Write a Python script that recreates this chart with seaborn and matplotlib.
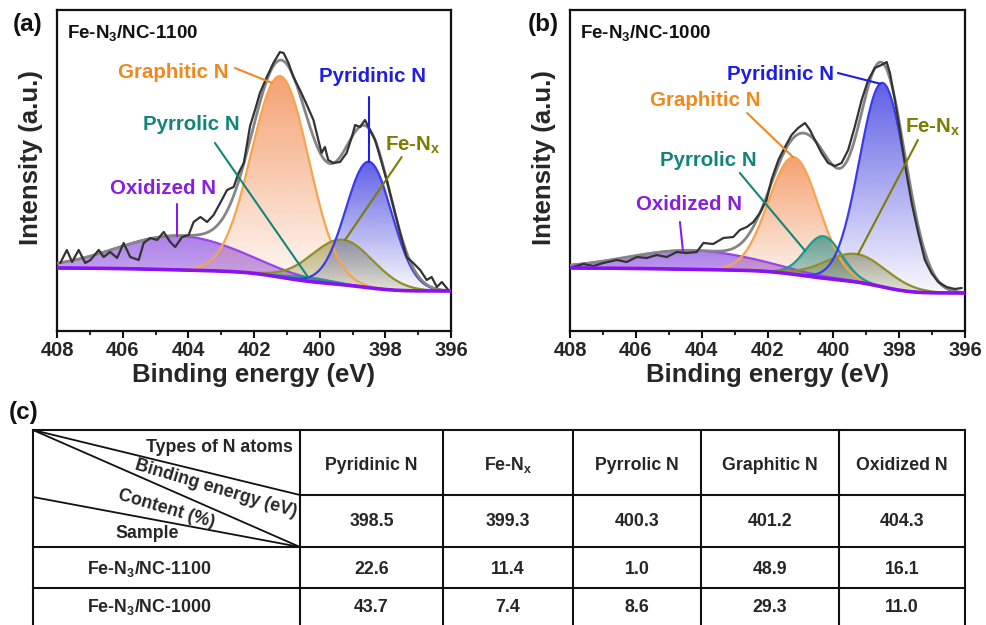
import numpy as np
import matplotlib
matplotlib.use("Agg")
import matplotlib.pyplot as plt
from matplotlib.patches import Polygon
from matplotlib.colors import to_rgb
from matplotlib.ticker import MultipleLocator
import seaborn as sns

# ---------------------------------------------------------------- data
# N 1s species, binding energies (eV) and contents (%)
species = ["Pyridinic N", "Fe-N$_x$", "Pyrrolic N", "Graphitic N", "Oxidized N"]
binding_energy = [398.5, 399.3, 400.3, 401.2, 404.3]
content_1100 = [22.6, 11.4, 1.0, 48.9, 16.1]
content_1000 = [43.7, 7.4, 8.6, 29.3, 11.0]
samples = ["Fe-N$_3$/NC-1100", "Fe-N$_3$/NC-1000"]

# fitted component heights (a.u.) and FWHM (eV), same order as species
height_1100 = [126, 45, 4, 201, 34]
fwhm_1100 = [1.65, 2.2, 1.6, 2.05, 4.4]
height_1000 = [204, 28, 42, 117, 19]
fwhm_1000 = [1.65, 2.2, 1.3, 1.8, 4.5]

# Shirley background levels (high-BE end, low-BE end)
background_1100 = [63, 40]
background_1000 = [63, 38]

# measured N 1s spectra
energy_1100 = [407.9, 407.7, 407.54, 407.34, 407.14, 406.98, 406.73, 406.58, 406.38,
               406.17, 405.97, 405.77, 405.51, 405.36, 405.16, 404.95, 404.75, 404.55,
               404.4, 404.19, 403.99, 403.84, 403.63, 403.43, 403.23, 403.03, 402.82,
               402.62, 402.47, 402.31, 402.12, 401.96, 401.82, 401.61, 401.41, 401.21,
               401.1, 400.95, 400.8, 400.6, 400.39, 400.19, 400.04, 399.94, 399.84,
               399.74, 399.58, 399.38, 399.18, 399.02, 398.92, 398.77, 398.62, 398.47,
               398.31, 398.16, 397.96, 397.75, 397.55, 397.35, 397.15, 396.94, 396.74,
               396.59, 396.43, 396.28, 396.08]
counts_1100 = [68, 81, 69, 81, 68, 71, 81, 74, 79, 73, 88, 74, 71, 88, 93, 91, 99, 89,
               84, 94, 96, 109, 114, 109, 116, 128, 141, 144, 158, 168, 205, 222, 238,
               254, 268, 279, 278, 268, 254, 241, 226, 211, 191, 178, 184, 171, 168, 169,
               178, 194, 206, 204, 211, 201, 191, 174, 151, 124, 98, 74, 68, 61, 51, 54,
               44, 49, 41]

energy_1000 = [407.9, 407.6, 407.29, 406.99, 406.58, 406.28, 405.97, 405.67, 405.37,
               405.06, 404.76, 404.46, 404.15, 403.95, 403.65, 403.34, 403.04, 402.84,
               402.63, 402.43, 402.23, 402.03, 401.88, 401.67, 401.47, 401.27, 401.07,
               400.86, 400.71, 400.56, 400.36, 400.16, 399.95, 399.75, 399.55, 399.35,
               399.14, 398.94, 398.74, 398.54, 398.38, 398.28, 398.13, 397.98, 397.83,
               397.62, 397.42, 397.22, 397.02, 396.81, 396.56, 396.31, 396.1]
counts_1000 = [64, 67, 65, 68, 71, 69, 74, 73, 76, 74, 79, 78, 79, 88, 87, 93, 94, 101,
               104, 109, 118, 131, 151, 171, 184, 196, 203, 208, 201, 191, 178, 168, 165,
               168, 181, 204, 231, 251, 263, 266, 269, 258, 231, 201, 168, 128, 98, 71,
               58, 49, 44, 42, 43]

# ---------------------------------------------------------------- style
sns.set_theme(style="white")
plt.rcParams["font.family"] = ["Liberation Sans", "DejaVu Sans"]
plt.rcParams["font.weight"] = "bold"
plt.rcParams["mathtext.fontset"] = "custom"
plt.rcParams["mathtext.bf"] = "Liberation Sans:bold"
plt.rcParams["mathtext.rm"] = "Liberation Sans:bold"
plt.rcParams["mathtext.it"] = "Liberation Sans:bold"
plt.rcParams["mathtext.default"] = "bf"

line_colors = ["#3b3bec", "#8f8f2a", "#1f9a8f", "#f7a44c", "#9a44ea"]
fill_colors = ["#3c3ce0", "#86862c", "#238a80", "#f28a4e", "#8a48e0"]
fill_alpha = [(0.82, 0.03), (0.55, 0.18), (0.70, 0.20), (0.80, 0.03), (0.70, 0.42)]
text_colors = ["#1e1ee6", "#7d7d00", "#12857a", "#f0881e", "#8a1ee0"]
draw_order = [4, 3, 2, 1, 0]

grid = np.linspace(396, 408, 1201)


def component(center, height, fwhm):
    return height * np.exp(-4 * np.log(2) * (grid - center) ** 2 / fwhm ** 2)


def shirley(comps, levels):
    total = np.sum(comps, axis=0)
    cum = np.concatenate([[0], np.cumsum((total[1:] + total[:-1]) / 2)])
    return levels[1] + (levels[0] - levels[1]) * cum / cum[-1]


def gradient_fill(ax, x, lower, upper, color, a_top, a_bot, z):
    verts = np.column_stack([np.r_[x, x[::-1]], np.r_[upper, lower[::-1]]])
    clip = Polygon(verts, closed=True, transform=ax.transData,
                   facecolor="none", edgecolor="none")
    n = 256
    rgba = np.zeros((n, 1, 4))
    rgba[..., :3] = to_rgb(color)
    rgba[:, 0, 3] = np.linspace(a_bot, a_top, n)
    im = ax.imshow(rgba, extent=[x.min(), x.max(), lower.min(), upper.max()],
                   origin="lower", aspect="auto", interpolation="bilinear", zorder=z)
    im.set_clip_path(clip)


def spectrum_panel(ax, energy, counts, heights, widths, levels, name, labels):
    comps = [component(c, h, w) for c, h, w in zip(binding_energy, heights, widths)]
    base = shirley(comps, levels)
    for k, i in enumerate(draw_order):
        a_top, a_bot = fill_alpha[i]
        gradient_fill(ax, grid, base, base + comps[i], fill_colors[i], a_top, a_bot, 1 + 0.1 * k)
    for i in draw_order:
        sns.lineplot(x=grid, y=base + comps[i], ax=ax, color=line_colors[i],
                     lw=1.6, sort=False, estimator=None, zorder=3)
    envelope = base + np.sum(comps, axis=0)
    sns.lineplot(x=grid, y=envelope, ax=ax, color="#858585", lw=2.0,
                 sort=False, estimator=None, zorder=4)
    sns.lineplot(x=energy, y=counts, ax=ax, color="#333333", lw=1.6,
                 sort=False, estimator=None, zorder=5)
    sns.lineplot(x=grid, y=base, ax=ax, color="#8b12f0", lw=2.6,
                 sort=False, estimator=None, zorder=6)

    for i, (tx, ty, sx, sy, e_tip) in labels.items():
        ax.text(tx, ty, species[i], color=text_colors[i], fontsize=14.8,
                fontweight="bold", ha="center", va="center", zorder=8)
        tip = np.interp(e_tip, grid, base + comps[i])
        ax.plot([sx, e_tip], [sy, tip], color=text_colors[i], lw=1.5, zorder=7)

    ax.text(407.7, 298, name, fontsize=13.5, fontweight="bold", ha="left",
            va="center", color="#111111")
    ax.set_xlim(408, 396)
    ax.set_ylim(0, 321)
    ax.xaxis.set_major_locator(MultipleLocator(2))
    ax.xaxis.set_minor_locator(MultipleLocator(1))
    ax.set_yticks([])
    ax.tick_params(axis="x", which="major", direction="out", length=5, width=1.5,
                   labelsize=14.5, pad=2, bottom=True, color="#111111")
    ax.tick_params(axis="x", which="minor", direction="out", length=3, width=1.3,
                   bottom=True, color="#111111")
    for lab in ax.get_xticklabels():
        lab.set_fontweight("bold")
    for sp in ax.spines.values():
        sp.set_linewidth(1.6)
        sp.set_color("#111111")
    ax.set_xlabel("Binding energy (eV)", fontsize=18.5, fontweight="bold")
    ax.set_ylabel("Intensity (a.u.)", fontsize=18.5, fontweight="bold")
    ax.xaxis.set_label_coords(0.5, -0.10)
    ax.yaxis.set_label_coords(-0.035, 0.54)


W, H = 987, 625
fig = plt.figure(figsize=(9.87, 6.25), dpi=100)
ax_a = fig.add_axes([57 / W, 1 - 331 / H, 394 / W, 321 / H])
ax_b = fig.add_axes([570 / W, 1 - 331 / H, 395 / W, 321 / H])

# label: (text x, text y, leader start x, leader start y, leader end energy)
labels_a = {
    3: (404.47, 258, 402.58, 263, 401.45),
    0: (398.4, 255, 398.5, 234, 398.5),
    2: (403.92, 206, 403.19, 188, 400.35),
    1: (397.15, 186, 397.5, 174, 399.23),
    4: (404.77, 143, 404.35, 127, 404.35),
}
labels_b = {
    0: (401.62, 256, 399.86, 258, 398.58),
    3: (403.9, 231, 402.62, 218, 401.22),
    2: (403.8, 170, 402.84, 158, 400.86),
    1: (396.97, 204, 397.43, 191, 399.25),
    4: (404.4, 127, 404.66, 109, 404.57),
}
spectrum_panel(ax_a, energy_1100, counts_1100, height_1100, fwhm_1100,
               background_1100, samples[0], labels_a)
spectrum_panel(ax_b, energy_1000, counts_1000, height_1000, fwhm_1000,
               background_1000, samples[1], labels_b)

# ---------------------------------------------------------------- table (c)
tab = fig.add_axes([0, 0, 1, 1])
tab.set_xlim(0, W)
tab.set_ylim(H, 0)
tab.axis("off")

for t, x, y in [("(a)", 28, 24), ("(b)", 543, 24), ("(c)", 24, 412)]:
    tab.text(x, y, t, fontsize=17.5, fontweight="bold", ha="center", va="center",
             color="#111111")

col_x = [33, 300, 443, 573, 701, 839, 965]
row_y = [430, 495, 547, 588]
lk = dict(color="#111111", lw=1.5, solid_capstyle="projecting")
tab.plot([col_x[0], col_x[-1]], [row_y[0]] * 2, **lk)
tab.plot([col_x[1], col_x[-1]], [row_y[1]] * 2, **lk)
for y in row_y[2:]:
    tab.plot([col_x[0], col_x[-1]], [y, y], **lk)
for x in col_x:
    tab.plot([x, x], [row_y[0], H + 2], **lk)
# split header cell
tab.plot([col_x[0], col_x[1]], [row_y[0], row_y[1]], color="#111111", lw=1.3)
tab.plot([col_x[0], col_x[1]], [row_y[0], row_y[2]], color="#111111", lw=1.3)
tab.plot([col_x[0], col_x[1]], [497, row_y[2]], color="#111111", lw=1.3)

fs = 12.8
tab.text(293, 447, "Types of N atoms", fontsize=fs, ha="right", va="center")
tab.text(216, 489, "Binding energy (eV)", fontsize=fs, ha="center", va="center",
         rotation=-16.5, rotation_mode="anchor")
tab.text(166, 509, "Content (%)", fontsize=fs, ha="center", va="center",
         rotation=-16.5, rotation_mode="anchor")
tab.text(147, 534, "Sample", fontsize=fs, ha="center", va="center")

centers = [(col_x[j] + col_x[j + 1]) / 2 for j in range(1, 6)]
for cx, sp, be, c1, c2 in zip(centers, species, binding_energy, content_1100, content_1000):
    tab.text(cx, 465, sp, fontsize=fs, ha="center", va="center")
    tab.text(cx, 522, f"{be:.1f}", fontsize=fs, ha="center", va="center")
    tab.text(cx, 569, f"{c1:.1f}", fontsize=fs, ha="center", va="center")
    tab.text(cx, 607, f"{c2:.1f}", fontsize=fs, ha="center", va="center")
tab.text(87, 569, samples[0], fontsize=fs, ha="left", va="center")
tab.text(87, 607, samples[1], fontsize=fs, ha="left", va="center")

fig.savefig("out.png", dpi=100, facecolor="white")
